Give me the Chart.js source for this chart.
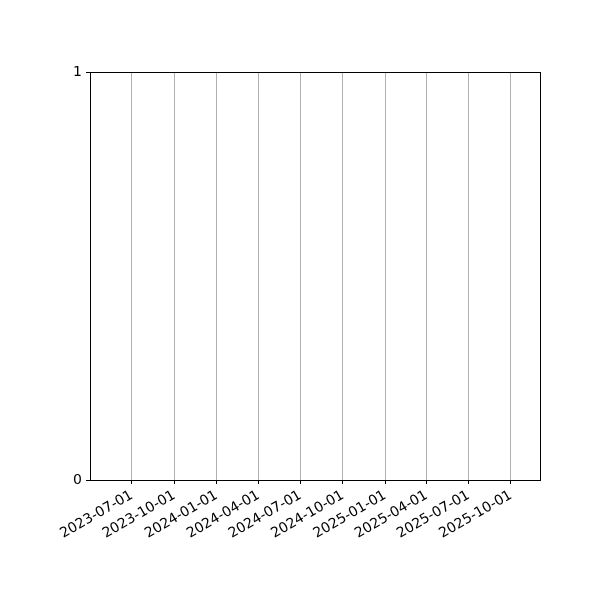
<!DOCTYPE html>
<html>
<head>
<meta charset="utf-8">
<script src="https://cdn.jsdelivr.net/npm/chart.js@4"></script>
<style>
  html, body { margin: 0; padding: 0; background: #fff; }
  #wrap { width: 600px; height: 600px; }
</style>
</head>
<body>
<div id="wrap"><canvas id="myChart" width="600" height="600"></canvas></div>
<script>
// tick labels on the date axis (quarterly)
const tickDates = ['2023-07-01', '2023-10-01', '2024-01-01', '2024-04-01', '2024-07-01',
                   '2024-10-01', '2025-01-01', '2025-04-01', '2025-07-01', '2025-10-01'];
// visible date range of the axis
const xRange = ['2023-04-01', '2025-12-03'];
// y axis ticks
const yTicks = [0, 1];
// the series is empty in the reference
const seriesDates = [];
const seriesValues = [];

const toMs = s => Date.parse(s + 'T00:00:00Z');
const fmt = ms => new Date(ms).toISOString().slice(0, 10);

// box around the plot area (matplotlib spines)
const frame = {
    id: 'frame',
    afterDraw(chart) {
        const a = chart.chartArea, c = chart.ctx;
        c.save();
        c.strokeStyle = '#000';
        c.lineWidth = 1;
        c.strokeRect(Math.round(a.left) + 0.5, Math.round(a.top) + 0.5,
                     Math.round(a.right - a.left), Math.round(a.bottom - a.top));
        c.restore();
    }
};

Chart.defaults.font.family = 'DejaVu Sans';
Chart.defaults.font.size = 14;
Chart.defaults.color = '#000';

const ctx = document.getElementById('myChart').getContext('2d');
const chart = new Chart(ctx, {
    type: 'line',
    data: {
        datasets: [{
            data: seriesDates.map((d, i) => ({ x: toMs(d), y: seriesValues[i] })),
            borderColor: '#1f77b4',
            pointRadius: 0
        }]
    },
    plugins: [frame],
    options: {
        responsive: false,
        animation: false,
        layout: { padding: { top: 72, right: 60, left: 0, bottom: 0 } },
        plugins: { legend: { display: false }, tooltip: { enabled: false } },
        scales: {
            x: {
                type: 'linear',
                min: toMs(xRange[0]),
                max: toMs(xRange[1]),
                afterBuildTicks: axis => { axis.ticks = tickDates.map(d => ({ value: toMs(d) })); },
                afterFit: axis => { axis.height = 120; },
                ticks: {
                    callback: v => fmt(v),
                    minRotation: 30,
                    maxRotation: 30,
                    autoSkip: false,
                    padding: 3
                },
                grid: { color: '#b0b0b0', tickColor: '#000', tickLength: 4, lineWidth: 1 },
                border: { color: '#000' }
            },
            y: {
                min: 0,
                max: 1,
                afterBuildTicks: axis => { axis.ticks = yTicks.map(v => ({ value: v })); },
                afterFit: axis => { axis.width = 90; },
                ticks: { padding: 4 },
                grid: { drawOnChartArea: false, tickColor: '#000', tickLength: 4 },
                border: { color: '#000' }
            }
        }
    }
});
</script>
</body>
</html>
